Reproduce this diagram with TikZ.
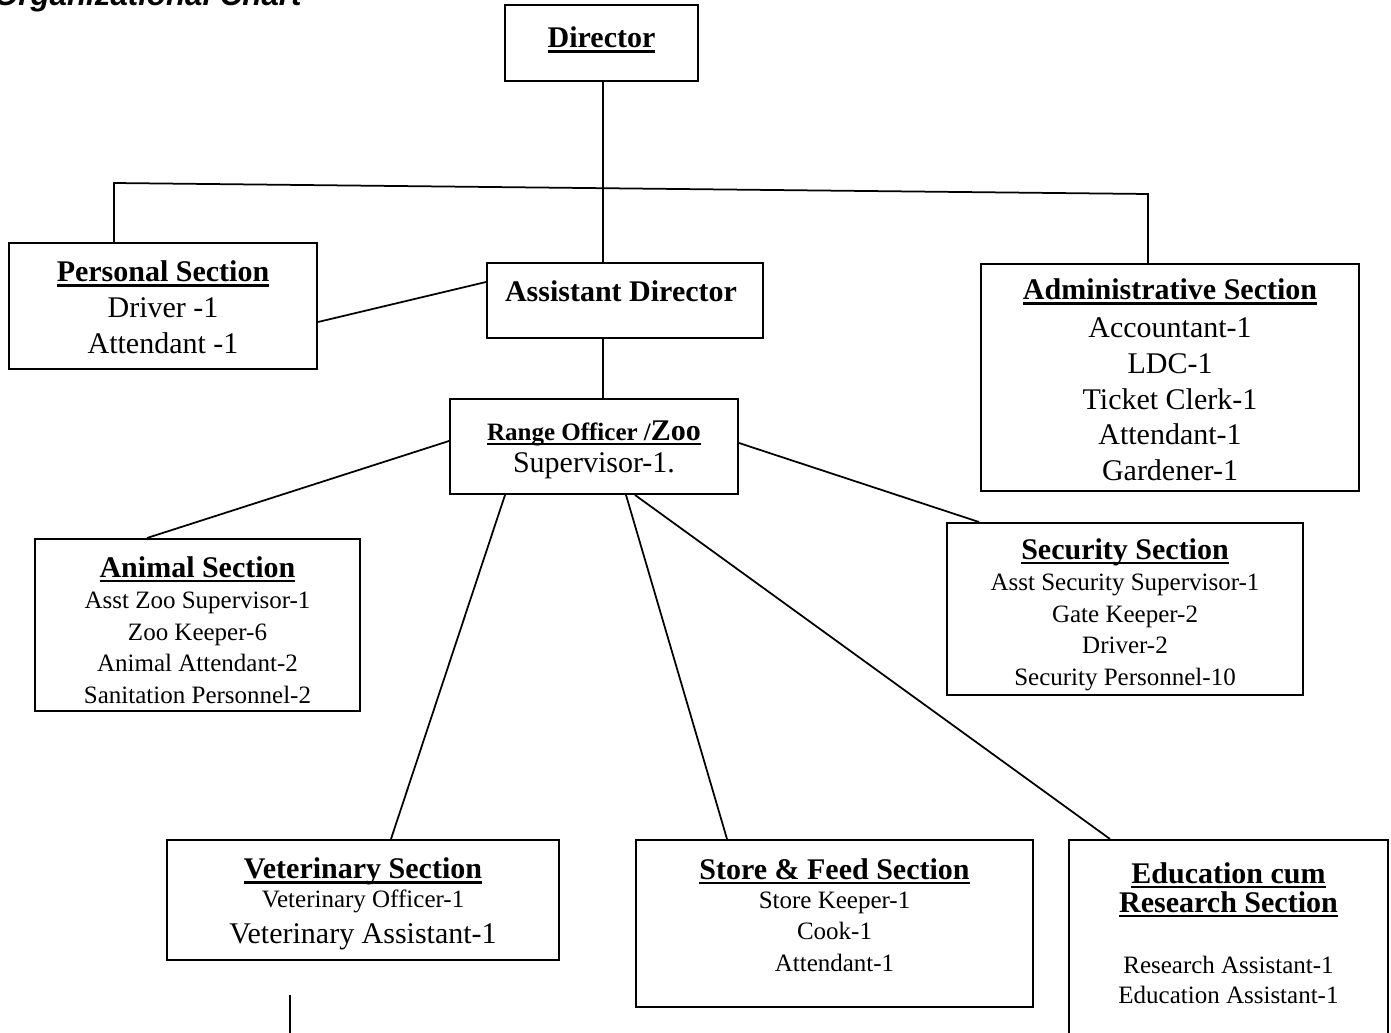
\documentclass[tikz,border=0pt]{standalone}
\usepackage{fontspec}
\setmainfont{Liberation Serif}
\newfontfamily\titlefont{Liberation Sans}
\usetikzlibrary{calc}
\newsavebox{\hdbox}
\newcommand{\hd}[1]{\sbox{\hdbox}{\textbf{#1}}\rlap{\rule[-2pt]{\wd\hdbox}{1pt}}\usebox{\hdbox}}
\newcommand{\fbig}{\fontsize{12}{14.2}\selectfont}
\newcommand{\fsmall}{\fontsize{10}{12.6}\selectfont}
\tikzset{
  box/.style={draw, line width=0.8pt, inner sep=0pt},
  txt/.style={align=center, inner sep=0pt, anchor=base},
  link/.style={line width=0.7pt},
}
\begin{document}
\begin{tikzpicture}[x=0.4pt,y=-0.4pt]
\def\pw{0.4pt}% one pixel of the reference
\useasboundingbox (0,0) rectangle (1391,1032);
\node[font=\titlefont\fontsize{12.5}{15}\selectfont\bfseries\itshape, anchor=base east, inner sep=0pt] (title) at (302,6) {Organizational Chart};
% boxes
\node[box, minimum width=193*\pw, minimum height=76*\pw] (dir) at (601.5,43) {};
\node[box, minimum width=308*\pw, minimum height=126*\pw] (pers) at (163,306) {};
\node[box, minimum width=276*\pw, minimum height=75*\pw] (asst) at (625,300.5) {};
\node[box, minimum width=378*\pw, minimum height=227*\pw] (admin) at (1170,377.5) {};
\node[box, minimum width=288*\pw, minimum height=95*\pw] (range) at (594,446.5) {};
\node[box, minimum width=325*\pw, minimum height=172*\pw] (anim) at (197.5,625) {};
\node[box, minimum width=356*\pw, minimum height=172*\pw] (secu) at (1125,609) {};
\node[box, minimum width=392*\pw, minimum height=120*\pw] (vet) at (363,900) {};
\node[box, minimum width=397*\pw, minimum height=167*\pw] (store) at (834.5,923.5) {};
\node[box, minimum width=319*\pw, minimum height=215*\pw] (edu) at (1228.5,947.5) {};
% texts (placed by the baseline of their last line)
\node[txt, font=\fbig] (dirt) at (dir |- 0,48) {\hd{Director}};
\node[txt, font=\fbig] (perst) at (pers |- 0,353) {\hd{Personal Section}\\Driver -1\\Attendant -1};
\node[txt, font=\fbig] (asstt) at (621,301) {\textbf{Assistant Director}};
\node[txt, font=\fbig] (admint) at (admin |- 0,480) {\hd{Administrative Section}\\[1pt]Accountant-1\\LDC-1\\Ticket Clerk-1\\Attendant-1\\Gardener-1};
\node[txt, font=\fbig] (ranget) at (range |- 0,472) {{\fontsize{10}{12}\selectfont\hd{Range Officer /{\fbig Zoo}}}\\[-1.4pt]Supervisor-1.};
\node[txt, font=\fsmall] (animt) at (anim |- 0,703) {{\fbig\hd{Animal Section}}\\Asst Zoo Supervisor-1\\Zoo Keeper-6\\Animal Attendant-2\\Sanitation Personnel-2};
\node[txt, font=\fsmall] (secut) at (secu |- 0,685) {{\fbig\hd{Security Section}}\\Asst Security Supervisor-1\\Gate Keeper-2\\Driver-2\\Security Personnel-10};
\node[txt, font=\fsmall] (vett) at (vet |- 0,943) {{\fbig\hd{Veterinary Section}}\\[-1pt]Veterinary Officer-1\\[1.6pt]{\fbig Veterinary Assistant-1}};
\node[txt, font=\fsmall] (storet) at (store |- 0,971) {{\fbig\hd{Store \& Feed Section}}\\[-1pt]Store Keeper-1\\Cook-1\\Attendant-1};
\node[txt, font=\fsmall] (edut) at (edu |- 0,1003) {{\fbig\hd{Education cum}}\\[-1pt]{\fbig\hd{Research Section}}\\[11.8pt]Research Assistant-1\\[-0.6pt]Education Assistant-1};
% connectors
\coordinate (jl) at (114,183);
\coordinate (jr) at (1148,194);
\coordinate (stub) at (290,995);
\draw[link] (dir.south -| 603,0) -- (asst.north -| 603,0);
\draw[link] (pers.north -| jl) -- (jl) -- (jr) -- (admin.north -| jr);
\draw[link] ($(pers.east)+(0,16)$) -- ($(asst.west)+(0,-18.5)$);
\draw[link] (asst.south -| 603,0) -- (range.north -| 603,0);
\draw[link] ($(range.west)+(0,-5.5)$) -- ($(anim.north)+(-50.5,0)$);
\draw[link] ($(range.east)+(0,-3.5)$) -- ($(secu.north)+(-146,0)$);
\draw[link] ($(range.south)+(-89,0)$) -- ($(vet.north)+(28,0)$);
\draw[link] ($(range.south)+(32,0)$) -- ($(store.north)+(-107.5,0)$);
\draw[link] ($(range.south)+(41,0)$) -- ($(edu.north)+(-118.5,0)$);
\draw[link] (stub) -- ++(0,50);
\end{tikzpicture}
\end{document}
